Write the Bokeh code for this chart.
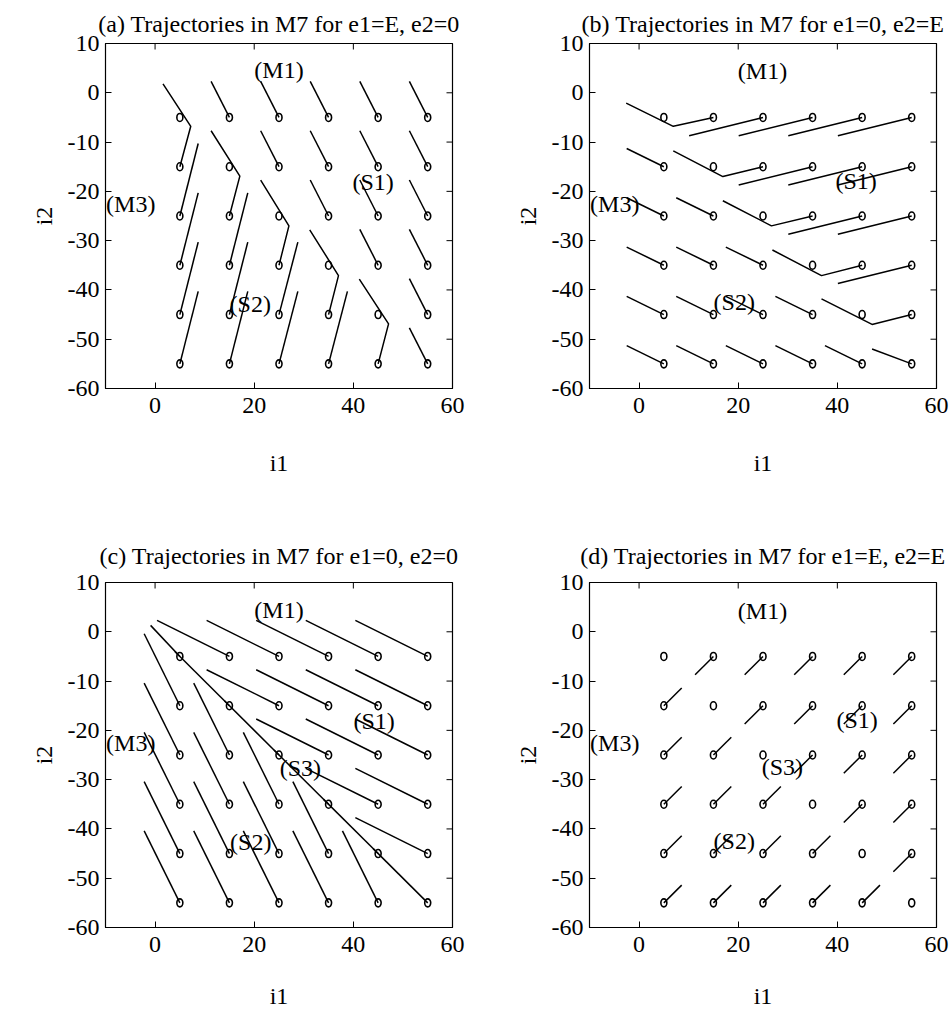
from bokeh.plotting import figure
from bokeh.models import Range1d, FixedTicker
from bokeh.layouts import column, row
from bokeh.embed import file_html
from bokeh.resources import INLINE
from bokeh.core.properties import value

FONT = "Liberation Serif"

TITLES = [
    "(a) Trajectories in M7 for e1=E, e2=0",
    "(b) Trajectories in M7 for e1=0, e2=E",
    "(c) Trajectories in M7 for e1=0, e2=0",
    "(d) Trajectories in M7 for e1=E, e2=E",
]
X_LABEL = "i1"
Y_LABEL = "i2"
X_TICKS = [0, 20, 40, 60]
Y_TICKS = [-60, -50, -40, -30, -20, -10, 0, 10]
X_MIN, X_MAX = -10, 60
Y_MIN, Y_MAX = -60, 10

# initial points of the trajectories (circles)
GRID_I1 = [5, 15, 25, 35, 45, 55]
GRID_I2 = [-5, -15, -25, -35, -45, -55]

# ---- panel (a) trajectories
A_XS = [
    [5, 7.2, 1.6], [5, 8.7], [5, 8.7], [5, 8.7], [5, 8.7],
    [15, 11.3], [15, 17.1, 11.3], [15, 18.7], [15, 18.7], [15, 18.7],
    [25, 21.3], [25, 21.3], [25, 27.0, 21.3], [25, 28.8], [25, 28.8],
    [35, 31.3], [35, 31.3], [35, 31.3], [35, 37.0, 31.2], [35, 38.8],
    [45, 41.3], [45, 41.3], [45, 41.3], [45, 41.3], [45, 47.1, 41.2],
    [55, 51.3], [55, 51.3], [55, 51.3], [55, 51.3], [55, 51.3], [55, 51.3],
]
A_YS = [
    [-15, -6.8, 1.8], [-25, -10.3], [-35, -20.3], [-45, -30.3], [-55, -40.3],
    [-5, 2.3], [-25, -16.9, -7.7], [-35, -20.3], [-45, -30.3], [-55, -40.3],
    [-5, 2.3], [-15, -7.7], [-35, -27.0, -17.7], [-45, -30.3], [-55, -40.3],
    [-5, 2.3], [-15, -7.7], [-25, -17.7], [-45, -37.1, -27.8], [-55, -40.3],
    [-5, 2.3], [-15, -7.7], [-25, -17.7], [-35, -27.7], [-55, -46.9, -37.8],
    [-5, 2.3], [-15, -7.7], [-25, -17.7], [-35, -27.7], [-45, -37.7], [-55, -47.7],
]

# ---- panel (b) trajectories
B_XS = [
    [5, -2.5], [5, -2.5], [5, -2.5], [5, -2.5], [5, -2.5],
    [15, 6.9, -2.6], [15, 7.5], [15, 7.5], [15, 7.5], [15, 7.5],
    [25, 10.1], [25, 16.9, 6.9], [25, 17.5], [25, 17.5], [25, 17.5],
    [35, 20.1], [35, 20.1], [35, 26.7, 16.9], [35, 27.5], [35, 27.5],
    [45, 30.1], [45, 30.1], [45, 30.1], [45, 36.8, 26.9], [45, 37.5],
    [55, 40.1], [55, 40.1], [55, 40.1], [55, 40.1], [55, 47.0, 36.8], [55, 47.0],
]
B_YS = [
    [-15, -11.3], [-25, -21.3], [-35, -31.3], [-45, -41.3], [-55, -51.3],
    [-5, -6.8, -2.1], [-25, -21.3], [-35, -31.3], [-45, -41.3], [-55, -51.3],
    [-5, -8.7], [-15, -17.0, -11.8], [-35, -31.3], [-45, -41.3], [-55, -51.3],
    [-5, -8.7], [-15, -18.7], [-25, -27.0, -21.9], [-45, -41.3], [-55, -51.3],
    [-5, -8.7], [-15, -18.7], [-25, -28.7], [-35, -37.1, -31.9], [-55, -51.3],
    [-5, -8.7], [-15, -18.7], [-25, -28.7], [-35, -38.7], [-45, -47.0, -41.8], [-55, -52.0],
]

# ---- panel (c) trajectories
C_XS = [
    [5, -0.9], [5, -2.2], [5, -2.2], [5, -2.2], [5, -2.2], [5, -2.2],
    [15, 0.4], [15, 4.0], [15, 7.8], [15, 7.8], [15, 7.8], [15, 7.8],
    [25, 10.4], [25, 10.4], [25, 14.0], [25, 17.8], [25, 17.8], [25, 17.8],
    [35, 20.4], [35, 20.4], [35, 20.4], [35, 24.0], [35, 27.8], [35, 27.8],
    [45, 30.4], [45, 30.4], [45, 30.4], [45, 30.4], [45, 34.0], [45, 37.8],
    [55, 40.4], [55, 40.4], [55, 40.4], [55, 40.4], [55, 40.4], [55, 44.0],
]
C_YS = [
    [-5, 1.3], [-15, -0.4], [-25, -10.4], [-35, -20.4], [-45, -30.4], [-55, -40.4],
    [-5, 2.3], [-15, -4.0], [-25, -10.4], [-35, -20.4], [-45, -30.4], [-55, -40.4],
    [-5, 2.3], [-15, -7.7], [-25, -14.0], [-35, -20.4], [-45, -30.4], [-55, -40.4],
    [-5, 2.3], [-15, -7.7], [-25, -17.7], [-35, -24.0], [-45, -30.4], [-55, -40.4],
    [-5, 2.3], [-15, -7.7], [-25, -17.7], [-35, -27.7], [-45, -34.0], [-55, -40.4],
    [-5, 2.3], [-15, -7.7], [-25, -17.7], [-35, -27.7], [-45, -37.7], [-55, -44.0],
]

# ---- panel (d) trajectories
D_XS = [
    [5, 8.6], [5, 8.6], [5, 8.6], [5, 8.6], [5, 8.6],
    [15, 11.3], [15, 18.6], [15, 18.6], [15, 18.6], [15, 18.6],
    [25, 21.3], [25, 21.3], [25, 28.6], [25, 28.6], [25, 28.6],
    [35, 31.3], [35, 31.3], [35, 31.3], [35, 38.6], [35, 38.6],
    [45, 41.3], [45, 41.3], [45, 41.3], [45, 41.3], [45, 48.6],
    [55, 51.3], [55, 51.3], [55, 51.3], [55, 51.3], [55, 51.3],
]
D_YS = [
    [-15, -11.4], [-25, -21.4], [-35, -31.4], [-45, -41.4], [-55, -51.4],
    [-5, -8.7], [-25, -21.4], [-35, -31.4], [-45, -41.4], [-55, -51.4],
    [-5, -8.7], [-15, -18.7], [-35, -31.4], [-45, -41.4], [-55, -51.4],
    [-5, -8.7], [-15, -18.7], [-25, -28.7], [-45, -41.4], [-55, -51.4],
    [-5, -8.7], [-15, -18.7], [-25, -28.7], [-35, -38.7], [-55, -51.4],
    [-5, -8.7], [-15, -18.7], [-25, -28.7], [-35, -38.7], [-45, -48.7],
]

# ---- region labels
A_LBL = ["(M1)", "(S1)", "(M3)", "(S2)"]
A_LBL_X = [25.0, 44.0, -4.9, 19.2]
A_LBL_Y = [4.6, -18.0, -22.5, -42.8]
B_LBL = ["(M1)", "(S1)", "(M3)", "(S2)"]
B_LBL_X = [24.9, 43.8, -4.9, 19.2]
B_LBL_Y = [4.4, -17.9, -22.6, -42.5]
C_LBL = ["(M1)", "(S1)", "(M3)", "(S3)", "(S2)"]
C_LBL_X = [25.0, 44.2, -4.9, 29.3, 19.3]
C_LBL_Y = [4.4, -18.2, -22.6, -27.7, -42.7]
D_LBL = ["(M1)", "(S1)", "(M3)", "(S3)", "(S2)"]
D_LBL_X = [24.9, 44.0, -4.9, 28.9, 19.2]
D_LBL_Y = [4.3, -17.8, -22.6, -27.4, -42.5]


def make_panel(title, xs, ys, lbl, lbl_x, lbl_y, left_b, right_b, top_b, bottom_b,
               title_standoff, xlabel_standoff):
    p = figure(
        frame_width=347, frame_height=345,
        x_range=Range1d(X_MIN, X_MAX), y_range=Range1d(Y_MIN, Y_MAX),
        output_backend="svg", toolbar_location=None,
        min_border_left=left_b, min_border_right=right_b,
        min_border_top=top_b, min_border_bottom=bottom_b,
        background_fill_color="white", border_fill_color="white",
        outline_line_color="black", outline_line_width=1.2,
    )
    p.title.text = title
    p.title.align = "center"
    p.title.text_font = FONT
    p.title.text_font_size = "24px"
    p.title.text_font_style = "normal"
    p.title.text_color = "black"
    p.title.standoff = title_standoff

    p.xgrid.visible = False
    p.ygrid.visible = False

    for ax, ticks, label, standoff, lab_standoff in (
            (p.xaxis[0], X_TICKS, X_LABEL, xlabel_standoff, 9),
            (p.yaxis[0], Y_TICKS, Y_LABEL, 8, 6)):
        ax.ticker = FixedTicker(ticks=ticks)
        ax.major_label_overrides = {t: str(t) for t in ticks}
        ax.axis_label = label
        ax.axis_label_text_font = FONT
        ax.axis_label_text_font_size = "24px"
        ax.axis_label_text_font_style = "normal"
        ax.axis_label_text_color = "black"
        ax.axis_label_standoff = standoff
        ax.major_label_text_font = FONT
        ax.major_label_text_font_size = "24px"
        ax.major_label_text_color = "black"
        ax.major_label_standoff = lab_standoff
        ax.major_tick_in = 6
        ax.major_tick_out = 0
        ax.minor_tick_in = 0
        ax.minor_tick_out = 0
        ax.axis_line_color = "black"
        ax.major_tick_line_color = "black"

    # inward ticks on the top and right edges (half of each dash is clipped by the frame)
    p.scatter(x=X_TICKS, y=[Y_MAX] * len(X_TICKS), marker="dash", size=12, angle=1.5707963,
              line_color="black", line_width=1)
    p.scatter(x=[X_MAX] * len(Y_TICKS), y=Y_TICKS, marker="dash", size=12,
              line_color="black", line_width=1)

    p.multi_line(xs=xs, ys=ys, line_color="black", line_width=1.5)

    cx = [x for y in GRID_I2 for x in GRID_I1]
    cy = [y for y in GRID_I2 for x in GRID_I1]
    p.ellipse(x=cx, y=cy, width=6, height=8, width_units="screen", height_units="screen",
              fill_color=None, line_color="black", line_width=1.6)

    p.text(x=lbl_x, y=lbl_y, text=lbl, text_font=value(FONT), text_font_size="24px",
           text_align="center", text_baseline="middle", text_color="black")
    return p


pa = make_panel(TITLES[0], A_XS, A_YS, A_LBL, A_LBL_X, A_LBL_Y, 105, 40, 43, 136, 14, 34)
pb = make_panel(TITLES[1], B_XS, B_YS, B_LBL, B_LBL_X, B_LBL_Y, 97, 15, 43, 136, 14, 34)
pc = make_panel(TITLES[2], C_XS, C_YS, C_LBL, C_LBL_X, C_LBL_Y, 105, 40, 58, 84, 28, 28)
pd = make_panel(TITLES[3], D_XS, D_YS, D_LBL, D_LBL_X, D_LBL_Y, 97, 15, 58, 84, 28, 28)

layout = column(row(pa, pb), row(pc, pd))
open("out.html", "w").write(file_html(layout, INLINE))
